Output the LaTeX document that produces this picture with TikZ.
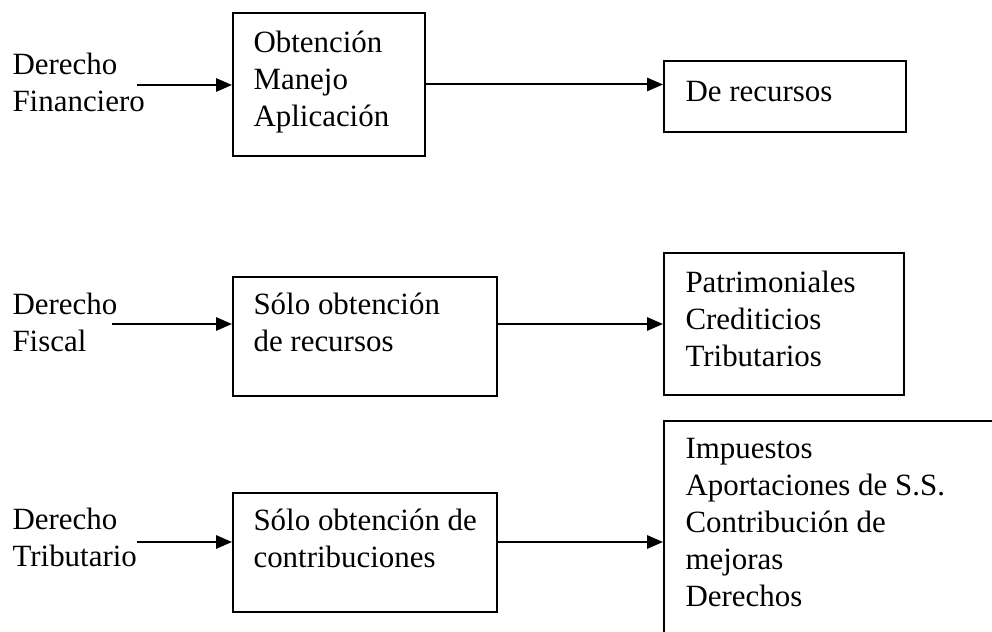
\documentclass[tikz,border=0pt]{standalone}
\usepackage{fontspec}
\setmainfont{Liberation Serif}
\usetikzlibrary{arrows.meta,fit}

\tikzset{
  caja/.style={draw, line width=0.75pt, inner sep=0pt, rectangle},
  texto/.style={align=left, inner sep=0pt, anchor=base west, font=\fontsize{11.6}{13.9}\selectfont},
  flecha/.style={line width=0.75pt, -{Triangle[length=6pt, width=5pt]}},
}

\begin{document}
\begin{tikzpicture}[x=0.375pt, y=-0.375pt]
  \useasboundingbox (0,0) rectangle (992,632);
  \clip (0,0) rectangle (992,632);

  % derecho financiero (texto anclado en la ultima linea)
  \node[texto] (finL) at (12,112) {Derecho\\Financiero};
  \coordinate (finA) at (137,85);
  \node[caja, fit={(233,13) (425,156)}] (obt) {};
  \node[texto] (obtT) at (253,127) {Obtención\\Manejo\\Aplicación};
  \node[caja, fit={(664,61) (906,132)}] (rec) {};
  \node[texto] (recT) at (685,102) {De recursos};
  \draw[flecha] (finA) -- (finA -| obt.west);
  \draw[flecha] (obt.east) -- (obt.east -| rec.west);

  % derecho fiscal
  \node[texto] (fisL) at (12,352) {Derecho\\Fiscal};
  \coordinate (fisA) at (112,324);
  \node[caja, fit={(233,277) (497,396)}] (sol) {};
  \node[texto] (solT) at (253,352) {Sólo obtención\\de recursos};
  \node[caja, fit={(664,253) (904,395)}] (pat) {};
  \node[texto] (patT) at (685,367) {Patrimoniales\\Crediticios\\Tributarios};
  \draw[flecha] (fisA) -- (fisA -| sol.west);
  \draw[flecha] (pat.west -| sol.east) -- (pat.west);

  % derecho tributario
  \node[texto] (triL) at (12,567) {Derecho\\Tributario};
  \coordinate (triA) at (137,542);
  \node[caja, fit={(233,493) (497,612)}] (con) {};
  \node[texto] (conT) at (253,568) {Sólo obtención de\\contribuciones};
  \node[caja, fit={(664,421) (1020,680)}] (imp) {};
  \node[texto] (impT) at (685,607) {Impuestos\\Aportaciones de S.S.\\Contribución de\\mejoras\\Derechos};
  \draw[flecha] (triA) -- (triA -| con.west);
  \draw[flecha] (triA -| con.east) -- (triA -| imp.west);

\end{tikzpicture}
\end{document}
